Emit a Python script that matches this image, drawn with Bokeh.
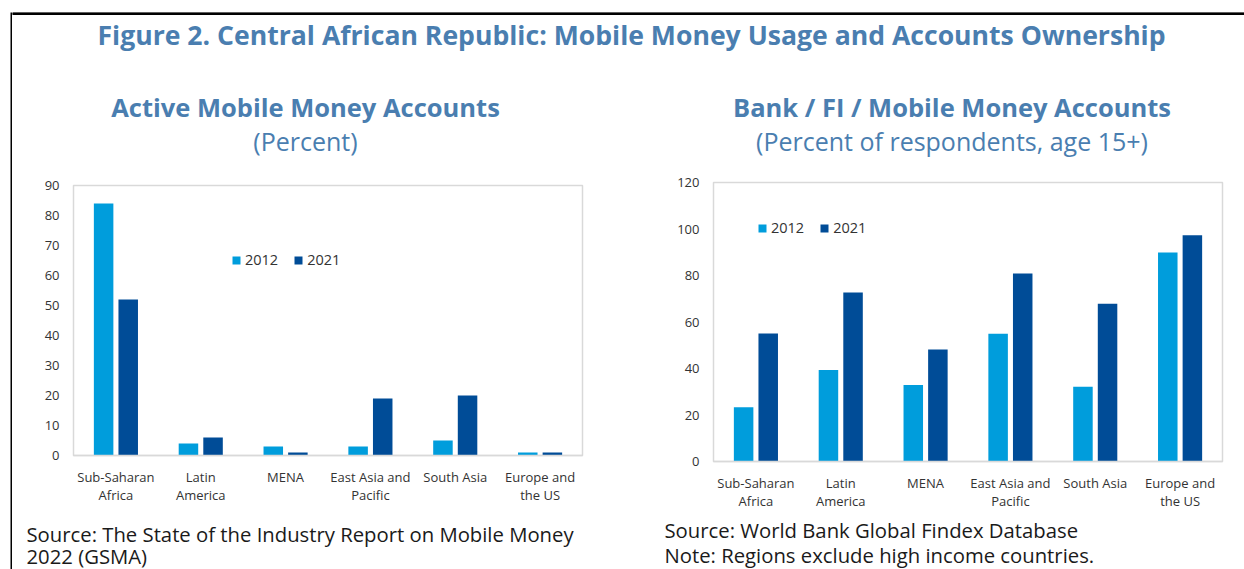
from bokeh.plotting import figure
from bokeh.models import Range1d, FactorRange, SingleIntervalTicker, Spacer, ColumnDataSource
from bokeh.layouts import row, column
from bokeh.transform import dodge
from bokeh.core.properties import value
from bokeh.embed import file_html
from bokeh.resources import INLINE

# ---------------- data ----------------
regions = ["Sub-Saharan\nAfrica", "Latin\nAmerica", "MENA",
           "East Asia and\nPacific", "South Asia", "Europe and\nthe US"]
years = ["2012", "2021"]

# Active Mobile Money Accounts (percent)
mobile_2012 = [84, 4, 3, 3, 5, 1]
mobile_2021 = [52, 6, 1, 19, 20, 1]

# Bank / FI / Mobile Money Accounts (percent of respondents, age 15+)
account_2012 = [23.3, 39.4, 32.9, 55.0, 32.2, 89.9]
account_2021 = [55.1, 72.7, 48.2, 80.9, 67.9, 97.3]

fig_title = "Figure 2. Central African Republic: Mobile Money Usage and Accounts Ownership"
left_title = "Active Mobile Money Accounts"
left_sub = "(Percent)"
right_title = "Bank / FI / Mobile Money Accounts"
right_sub = "(Percent of respondents, age 15+)"
left_notes = ["Source: The State of the Industry Report on Mobile Money", "2022 (GSMA)"]
right_notes = ["Source: World Bank Global Findex Database",
               "Note: Regions exclude high income countries."]

# ---------------- style ----------------
FONT = "Open Sans"
TITLE_COLOR = "#4A7EB0"
C2012 = "#009DDC"
C2021 = "#004C97"
GRID_GRAY = "#D9D9D9"
TEXT_DARK = "#333333"

TOTAL_W = 1232


def blank_fig(w, h):
    p = figure(width=w, height=h, x_range=Range1d(0, w), y_range=Range1d(h, 0),
               output_backend="svg", toolbar_location=None,
               x_axis_type=None, y_axis_type=None, min_border=0,
               outline_line_color=None, background_fill_color="white",
               border_fill_color="white")
    p.grid.visible = False
    return p


# left black border strip
vborder = figure(width=2, height=557, x_range=Range1d(0, 1), y_range=Range1d(0, 1),
                 output_backend="svg", toolbar_location=None,
                 x_axis_type=None, y_axis_type=None, min_border=0,
                 outline_line_color=None, background_fill_color="black",
                 border_fill_color="black")
vborder.grid.visible = False

# ---------------- header ----------------
HEAD_H = 153
head = blank_fig(TOTAL_W, HEAD_H)
head.quad(left=[0], right=[TOTAL_W], top=[0], bottom=[2], color="black")
head.text(x=[619], y=[22.5], text=[fig_title], text_align="center",
          text_baseline="alphabetic", text_font=value(FONT), text_font_style="bold",
          text_font_size="26.6px", text_color=TITLE_COLOR)
head.text(x=[293, 939.5], y=[94, 94], text=[left_title, right_title],
          text_align="center", text_baseline="alphabetic", text_font=value(FONT),
          text_font_style="bold", text_font_size="25.5px", text_color=TITLE_COLOR)
head.text(x=[293, 939.5], y=[128.5, 128.5], text=[left_sub, right_sub],
          text_align="center", text_baseline="alphabetic", text_font=value(FONT),
          text_font_size="25px", text_color=TITLE_COLOR)


# ---------------- charts ----------------
def make_chart(v2012, v2021, ymax, step, w, h, mbl, mbr, mbt, mbb, legend_xy):
    src = ColumnDataSource(dict(region=regions, y2012=v2012, y2021=v2021))
    p = figure(x_range=FactorRange(*regions), y_range=Range1d(0, ymax),
               width=w, height=h, output_backend="svg", toolbar_location=None,
               min_border_left=mbl, min_border_right=mbr,
               min_border_top=mbt, min_border_bottom=mbb,
               outline_line_color=GRID_GRAY, outline_line_width=1.5,
               background_fill_color="white", border_fill_color="white")
    p.vbar(x=dodge("region", -0.145, range=p.x_range), top="y2012", width=0.23,
           source=src, fill_color=C2012, line_color=None, legend_label=years[0])
    p.vbar(x=dodge("region", 0.145, range=p.x_range), top="y2021", width=0.23,
           source=src, fill_color=C2021, line_color=None, legend_label=years[1])
    p.grid.visible = False

    xa = p.xaxis[0]
    xa.axis_line_color = GRID_GRAY
    xa.axis_line_width = 1.5
    xa.major_tick_line_color = None
    xa.minor_tick_line_color = None
    xa.major_tick_out = 0
    xa.major_tick_in = 0
    xa.major_label_standoff = 12
    xa.major_label_text_font = FONT
    xa.major_label_text_font_size = "13px"
    xa.major_label_text_color = TEXT_DARK
    xa.major_label_text_line_height = 1.0

    ya = p.yaxis[0]
    ya.ticker = SingleIntervalTicker(interval=step)
    ya.axis_line_color = None
    ya.major_tick_line_color = None
    ya.minor_tick_line_color = None
    ya.major_tick_out = 0
    ya.major_tick_in = 0
    ya.major_label_standoff = 10
    ya.major_label_text_font = FONT
    ya.major_label_text_font_size = "13px"
    ya.major_label_text_color = TEXT_DARK

    lg = p.legend[0]
    lg.orientation = "horizontal"
    lg.location = legend_xy
    lg.border_line_color = None
    lg.background_fill_alpha = 0
    lg.padding = 0
    lg.margin = 0
    lg.glyph_width = 10
    lg.glyph_height = 10
    lg.label_height = 10
    lg.label_standoff = 4
    lg.spacing = 15
    lg.label_text_font = FONT
    lg.label_text_font_size = "14.5px"
    lg.label_text_color = TEXT_DARK
    return p


# left frame: x 73-582, y 185-455 ; right frame: x 713-1222, y 182-461
left = make_chart(mobile_2012, mobile_2021, 90, 10, 620, 341,
                  61, 50, 17, 54, (158, 186))
right = make_chart(account_2012, account_2021, 120, 20, 612, 350,
                   81, 22, 17, 54, (44, 224))
left_col = column(Spacer(height=3, width=620), left, Spacer(height=6, width=620))

# ---------------- footer ----------------
FOOT_H = 54
foot = blank_fig(TOTAL_W, FOOT_H)
foot.text(x=[14, 14], y=[18, 40], text=left_notes, text_align="left",
          text_baseline="alphabetic", text_font=value(FONT),
          text_font_size="20.3px", text_color="#1a1a1a")
foot.text(x=[652, 652], y=[14, 39], text=right_notes, text_align="left",
          text_baseline="alphabetic", text_font=value(FONT),
          text_font_size="20.3px", text_color="#1a1a1a")

content = column(head, row(left_col, right), foot)
page = column(Spacer(height=12, width=1244),
              row(Spacer(width=10, height=557), vborder, content))

open("out.html", "w").write(file_html(page, INLINE))
